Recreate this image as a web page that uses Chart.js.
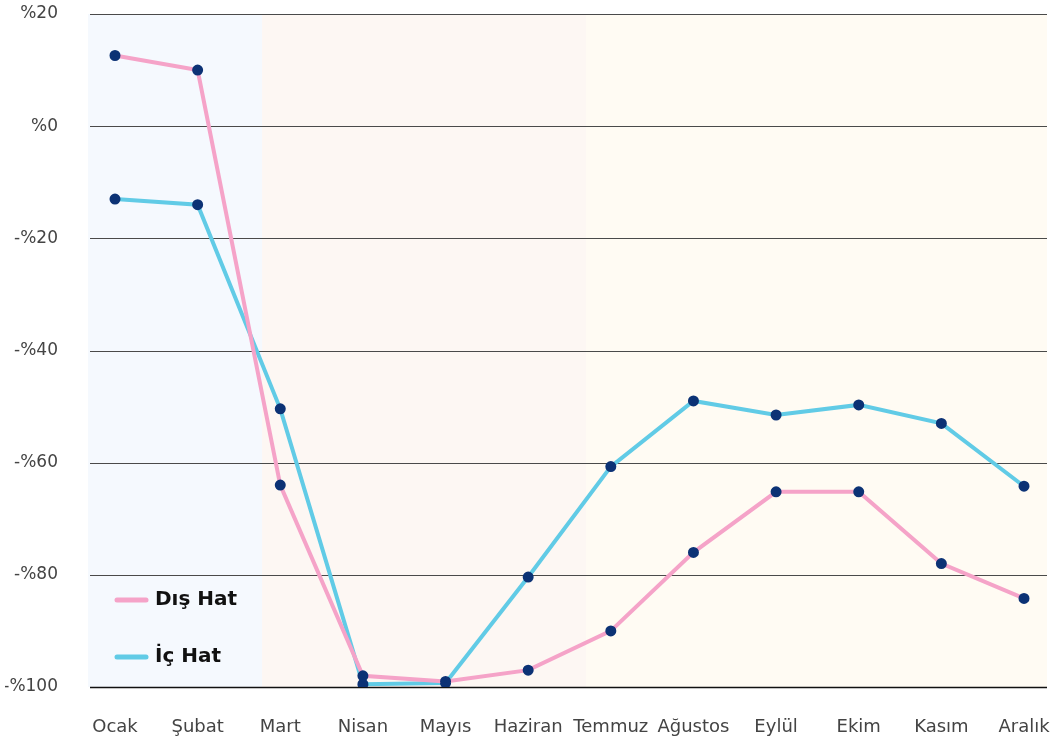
<!DOCTYPE html>
<html>
<head>
<meta charset="utf-8">
<script src="https://cdn.jsdelivr.net/npm/chart.js@4/dist/chart.umd.min.js"></script>
<style>
  html, body { margin: 0; padding: 0; background: #fff; overflow: hidden; }
  canvas { display: block; }
</style>
</head>
<body>
<canvas id="myChart" width="1064" height="741"></canvas>
<script>
const months = ['Ocak', 'Şubat', 'Mart', 'Nisan', 'Mayıs', 'Haziran', 'Temmuz', 'Ağustos', 'Eylül', 'Ekim', 'Kasım', 'Aralık'];
const disHat = [12.6, 10, -64, -98, -99, -97, -90, -76, -65.2, -65.2, -78, -84.2];
const icHat = [-13, -14, -50.4, -99.5, -99.3, -80.4, -60.7, -49, -51.5, -49.7, -53, -64.2];
const yTicks = [20, 0, -20, -40, -60, -80, -100];

const FONT = '"DejaVu Sans", sans-serif';

// background bands + grid lines, drawn wider than the point span
const backdrop = {
    id: 'backdrop',
    beforeDatasetsDraw(chart) {
        const { ctx, chartArea, scales } = chart;
        const x = scales.x, y = scales.y;
        const step = x.getPixelForValue(1) - x.getPixelForValue(0);
        const left = chartArea.left - 27;
        const right = chartArea.right + 23;
        const top = y.getPixelForValue(20);
        const bottom = y.getPixelForValue(-100);
        const b1 = x.getPixelForValue(1) + step * 0.78;
        const b2 = x.getPixelForValue(5) + step * 0.7;
        ctx.save();
        ctx.fillStyle = '#f5f9fe';
        ctx.fillRect(left, top, b1 - left, bottom - top);
        ctx.fillStyle = '#fdf7f3';
        ctx.fillRect(b1, top, b2 - b1, bottom - top);
        ctx.fillStyle = '#fffbf3';
        ctx.fillRect(b2, top, right - b2, bottom - top);
        yTicks.forEach(v => {
            const py = Math.round(y.getPixelForValue(v)) + 0.5;
            ctx.strokeStyle = v === -100 ? '#111' : '#4a4a4a';
            ctx.lineWidth = v === -100 ? 1.5 : 1.2;
            ctx.beginPath();
            ctx.moveTo(left + 2, py);
            ctx.lineTo(right, py);
            ctx.stroke();
        });
        ctx.restore();
    }
};

// legend drawn inside the chart area
const innerLegend = {
    id: 'innerLegend',
    afterDatasetsDraw(chart) {
        const { ctx, chartArea } = chart;
        const x0 = chartArea.left;
        const rows = [600, 657];
        ctx.save();
        chart.data.datasets.forEach((ds, i) => {
            ctx.strokeStyle = ds.borderColor;
            ctx.lineWidth = 5;
            ctx.lineCap = 'round';
            ctx.beginPath();
            ctx.moveTo(x0 + 2, rows[i]);
            ctx.lineTo(x0 + 31, rows[i]);
            ctx.stroke();
            ctx.fillStyle = '#111';
            ctx.font = 'bold 20px ' + FONT;
            ctx.textBaseline = 'middle';
            ctx.fillText(ds.label, x0 + 40, rows[i]);
        });
        ctx.restore();
    }
};

const ctx = document.getElementById('myChart').getContext('2d');
new Chart(ctx, {
    type: 'line',
    data: {
        labels: months,
        datasets: [
            {
                label: 'Dış Hat',
                data: disHat,
                borderColor: '#f5a3c8',
                borderWidth: 4,
                pointBackgroundColor: '#0c3275',
                pointBorderColor: '#0c3275',
                pointRadius: 3.5,
                tension: 0
            },
            {
                label: 'İç Hat',
                data: icHat,
                borderColor: '#61cbe6',
                borderWidth: 4,
                pointBackgroundColor: '#0c3275',
                pointBorderColor: '#0c3275',
                pointRadius: 3.5,
                tension: 0
            }
        ]
    },
    options: {
        responsive: false,
        animation: false,
        layout: { padding: { left: 5, right: 40, top: 14, bottom: 0 } },
        plugins: {
            legend: { display: false },
            tooltip: { enabled: false }
        },
        scales: {
            x: {
                offset: false,
                grid: { display: false, drawTicks: false },
                border: { display: false },
                afterFit: s => { s.paddingLeft = 0; s.paddingRight = 0; s.height = 54; },
                ticks: {
                    padding: 30,
                    color: '#444',
                    font: { family: FONT, size: 18 },
                    maxRotation: 0,
                    autoSkip: false
                }
            },
            y: {
                min: -100,
                max: 20,
                afterBuildTicks: s => { s.ticks = yTicks.map(v => ({ value: v })); },
                afterFit: s => { s.width = 110; s.paddingTop = 0; s.paddingBottom = 0; },
                grid: { display: false, drawTicks: false },
                border: { display: false },
                ticks: {
                    padding: 57,
                    color: '#444',
                    font: { family: FONT, size: 17 },
                    callback: v => (v < 0 ? '-%' + Math.abs(v) : '%' + v)
                }
            }
        }
    },
    plugins: [backdrop, innerLegend]
});
</script>
</body>
</html>
